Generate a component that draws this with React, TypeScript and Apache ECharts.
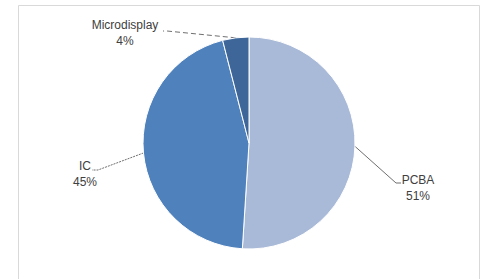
import React, { useEffect, useRef } from "react";
import * as echarts from "echarts";

const categories = ["PCBA", "IC", "Microdisplay"];
const values = [51, 45, 4];
const colors = ["#A9B9D8", "#4F81BD", "#3E6699"];
const lineTypes: any[] = ["solid", [2, 1], [5, 3]];

// label layout (center x, top y) and leader line end points
const labelPos = [
  { x: 418, y: 172, end: [[396, 183], [401, 183]] },
  { x: 85, y: 158, end: [[98, 170], [92, 170]] },
  { x: 125, y: 17, end: [[167, 31], [163, 31]] },
];

export default function App() {
  const ref = useRef<HTMLDivElement>(null);
  useEffect(() => {
    if (!ref.current) return;
    const chart = echarts.init(ref.current, undefined, { renderer: "svg" });
    chart.setOption({
      animation: false,
      backgroundColor: "#ffffff",
      graphic: [
        {
          type: "rect",
          shape: { x: 18.5, y: 5.5, width: 461, height: 290 },
          style: { fill: "none", stroke: "#d9d9d9", lineWidth: 1 },
          silent: true,
        },
      ],
      series: [
        {
          type: "pie",
          center: [249, 143],
          radius: 106,
          startAngle: 90,
          clockwise: true,
          avoidLabelOverlap: false,
          itemStyle: { borderColor: "#ffffff", borderWidth: 1 },
          label: {
            show: true,
            formatter: "{b}\n{d}%",
            fontFamily: "Liberation Sans, Arial, sans-serif",
            fontSize: 12,
            lineHeight: 16,
            color: "#404040",
            align: "center",
          },
          labelLine: {
            show: true,
            smooth: false,
            lineStyle: { color: "#6f6f6f", width: 1 },
          },
          labelLayout: (params: any) => {
            const p = labelPos[params.dataIndex];
            const anchor = params.labelLinePoints ? params.labelLinePoints[0] : [0, 0];
            return {
              x: p.x,
              y: p.y,
              align: "center",
              verticalAlign: "top",
              labelLinePoints: [anchor, p.end[0], p.end[1]],
            };
          },
          data: categories.map((name, i) => ({
            name,
            value: values[i],
            itemStyle: { color: colors[i] },
            label: { color: "#404040" },
            labelLine: { lineStyle: { type: lineTypes[i] } },
          })),
        },
      ],
    });
    return () => chart.dispose();
  }, []);
  return (
    <div
      ref={ref}
      style={{ position: "fixed", left: 0, top: 0, width: 488, height: 279 }}
    />
  );
}
